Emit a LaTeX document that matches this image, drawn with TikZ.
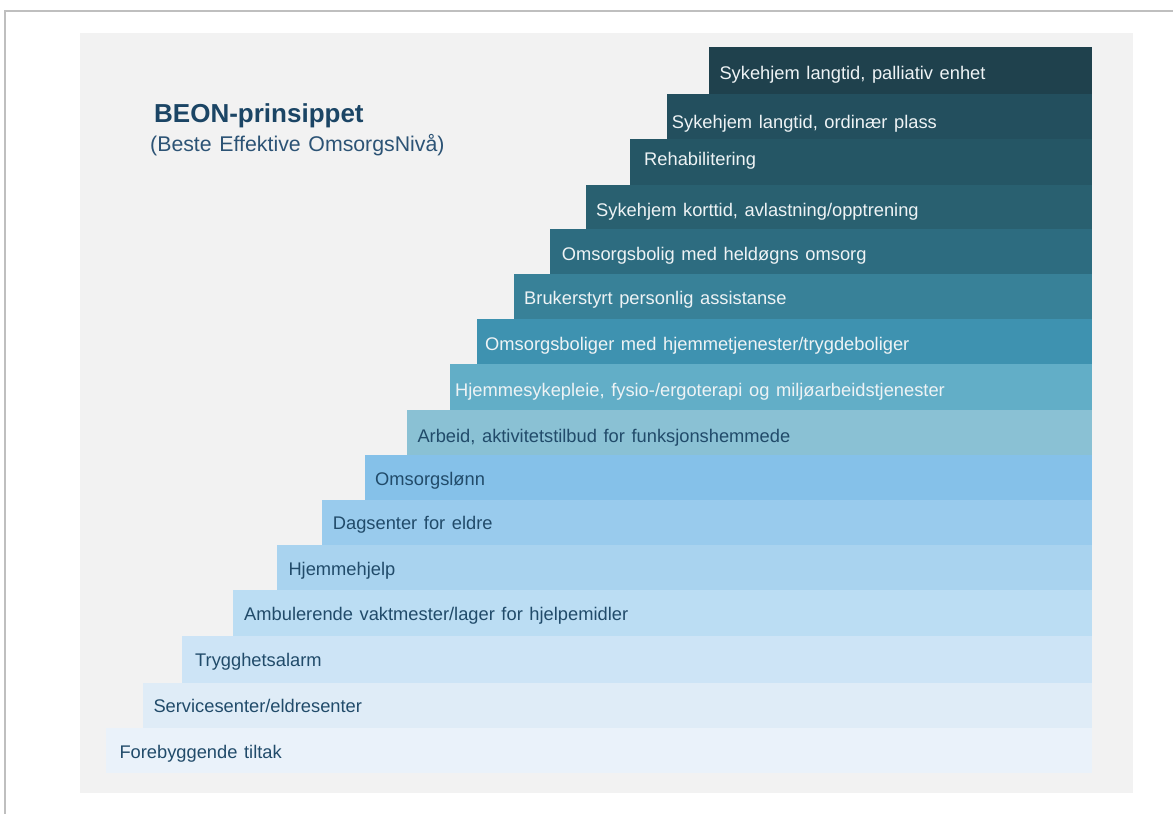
\documentclass[tikz,border=0pt]{standalone}
\usepackage{fontspec}
\setmainfont{Liberation Sans}[WordSpace=1.3]
\definecolor{frameline}{HTML}{BFBFBF}
\definecolor{bggray}{HTML}{F2F2F2}
\definecolor{titleblue}{HTML}{1B4565}
\definecolor{subblue}{HTML}{2C5375}
\definecolor{darktext}{HTML}{214B6A}
\definecolor{lighttext}{HTML}{EEF3F5}
\definecolor{cA}{HTML}{1F414D}
\definecolor{cB}{HTML}{234F5E}
\definecolor{cC}{HTML}{255665}
\definecolor{cD}{HTML}{296070}
\definecolor{cE}{HTML}{2D6C80}
\definecolor{cF}{HTML}{388198}
\definecolor{cG}{HTML}{3E92B0}
\definecolor{cH}{HTML}{62AEC7}
\definecolor{cI}{HTML}{8AC1D4}
\definecolor{cJ}{HTML}{85C1E9}
\definecolor{cK}{HTML}{99CBED}
\definecolor{cL}{HTML}{A9D3EF}
\definecolor{cM}{HTML}{BBDDF3}
\definecolor{cN}{HTML}{CDE4F6}
\definecolor{cO}{HTML}{DFECF7}
\definecolor{cP}{HTML}{EAF2FA}
\tikzset{
  lightlbl/.style={anchor=base west, inner sep=0pt, text=lighttext, font=\fontsize{18.3}{21}\selectfont},
  darklbl/.style={anchor=base west, inner sep=0pt, text=darktext, font=\fontsize{18.3}{21}\selectfont},
}
\begin{document}
\begin{tikzpicture}[x=1pt,y=-1pt]
\useasboundingbox (0,0) rectangle (1173,814);
% frame
\draw[frameline, line width=1.2pt] (5,814) -- (5,11) -- (1173,11);
% background
\fill[bggray] (80.3,32.7) rectangle (1133,793);
% steps
\fill[cA] (709.3,47.3) rectangle (1092,94);
\fill[cB] (666.7,94) rectangle (1092,139.3);
\fill[cC] (630,139.3) rectangle (1092,185);
\fill[cD] (586,185) rectangle (1092,229.3);
\fill[cE] (550,229.3) rectangle (1092,274.3);
\fill[cF] (514,274.3) rectangle (1092,319.3);
\fill[cG] (477.3,319.3) rectangle (1092,364.3);
\fill[cH] (450,364.3) rectangle (1092,410);
\fill[cI] (407.3,410) rectangle (1092,455);
\fill[cJ] (365,455) rectangle (1092,500);
\fill[cK] (322.3,500) rectangle (1092,545);
\fill[cL] (276.7,545) rectangle (1092,590);
\fill[cM] (233.3,590) rectangle (1092,635.5);
\fill[cN] (182.3,635.5) rectangle (1092,682.7);
\fill[cO] (143.3,682.7) rectangle (1092,728.3);
\fill[cP] (105.7,728.3) rectangle (1092,773.3);
% labels
\node[lightlbl] (s1) at (719.3,79) {Sykehjem langtid, palliativ enhet};
\node[lightlbl] (s2) at (671.7,128) {Sykehjem langtid, ordinær plass};
\node[lightlbl] (s3) at (644,165) {Rehabilitering};
\node[lightlbl] (s4) at (596,216.5) {Sykehjem korttid, avlastning/opptrening};
\node[lightlbl] (s5) at (561.7,260.5) {Omsorgsbolig med heldøgns omsorg};
\node[lightlbl] (s6) at (524,304.5) {Brukerstyrt personlig assistanse};
\node[lightlbl] (s7) at (485,350.5) {Omsorgsboliger med hjemmetjenester/trygdeboliger};
\node[lightlbl] (s8) at (455,396.7) {Hjemmesykepleie, fysio-/ergoterapi og miljøarbeidstjenester};
\node[darklbl] (s9) at (417.3,442.5) {Arbeid, aktivitetstilbud for funksjonshemmede};
\node[darklbl] (s10) at (375,485.5) {Omsorgslønn};
\node[darklbl] (s11) at (332.7,529.5) {Dagsenter for eldre};
\node[darklbl] (s12) at (288.3,575.5) {Hjemmehjelp};
\node[darklbl] (s13) at (244,620.5) {Ambulerende vaktmester/lager for hjelpemidler};
\node[darklbl] (s14) at (195,666.5) {Trygghetsalarm};
\node[darklbl] (s15) at (153.3,712.5) {Servicesenter/eldresenter};
\node[darklbl] (s16) at (119.3,758.3) {Forebyggende tiltak};
% title
\node[anchor=base west, inner sep=0pt, text=titleblue, font=\fontsize{26}{29}\selectfont\bfseries] (title) at (154,122.7) {BEON-prinsippet};
\node[anchor=base west, inner sep=0pt, text=subblue, font=\fontsize{21.3}{24}\selectfont] (subtitle) at (150,151.7) {(Beste Effektive OmsorgsNivå)};
\end{tikzpicture}
\end{document}
